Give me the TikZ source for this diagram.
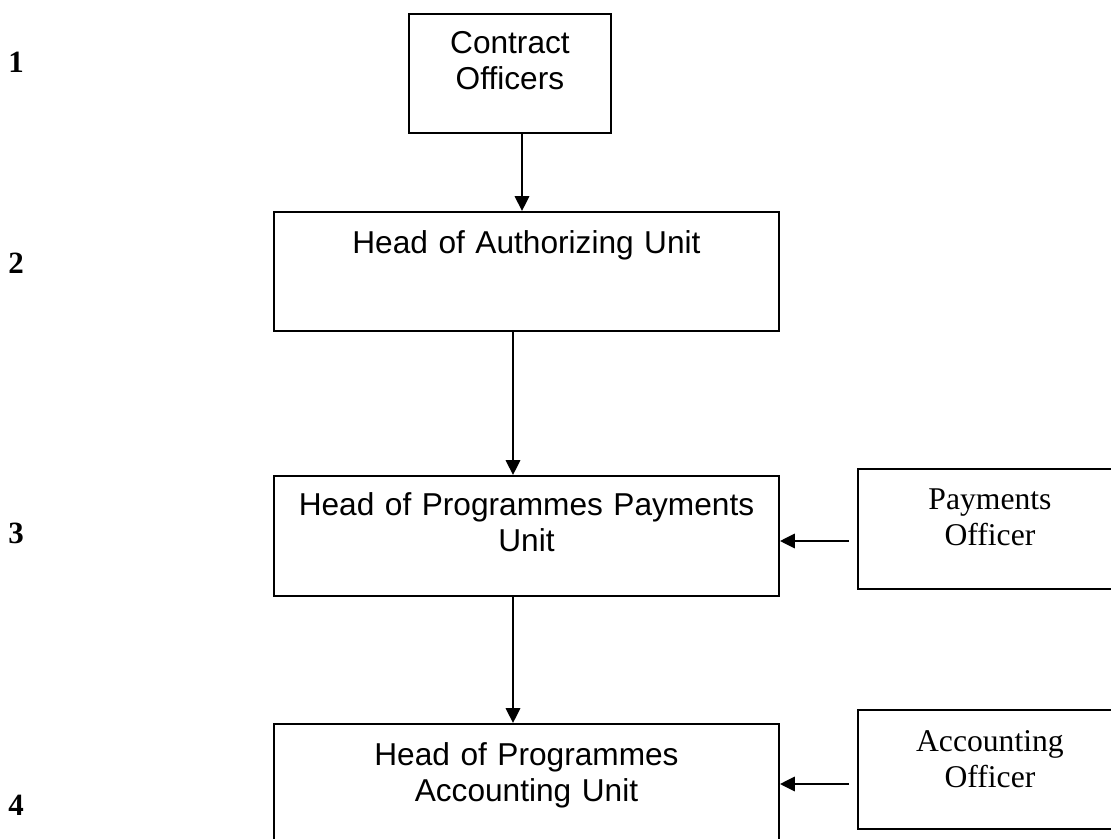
\documentclass[tikz,border=0pt]{standalone}
\usepackage{fontspec}
\setmainfont{Liberation Serif}
\newfontfamily\arialfont{Liberation Sans}
\usetikzlibrary{arrows.meta}

\begin{document}
\begin{tikzpicture}[x=0.025cm,y=-0.025cm,
  unitbox/.style={draw,line width=1.3pt,inner sep=0pt,anchor=north west,align=center,
    font=\arialfont\fontsize{22.5}{25.6}\selectfont},
  officerbox/.style={unitbox,font=\fontsize{22.5}{25.6}\selectfont},
  flow/.style={line width=1.3pt,-{Triangle[length=0.37cm,width=0.36cm]}},
  level/.style={font=\bfseries\fontsize{22}{24}\selectfont}]
\useasboundingbox (0,0) rectangle (1111,839);
\clip (0,0) rectangle (1111,839);

\node[level] (n1) at (16,62) {1};
\node[level] (n2) at (16,263) {2};
\node[level] (n3) at (16,533) {3};
\node[level] (n4) at (16,805) {4};

\node[unitbox,text width=5.05cm,text height=1.0cm,text depth=1.975cm] (contract) at (408,13) {Contract\\Officers};
\node[unitbox,text width=12.625cm,text height=1.05cm,text depth=1.925cm] (authorizing) at (273,211) {Head of Authorizing Unit};
\node[unitbox,text width=12.625cm,text height=1.0cm,text depth=2.0cm] (payments) at (273,475) {Head of Programmes Payments\\Unit};
\node[unitbox,text width=12.625cm,text height=1.05cm,text depth=2.375cm] (accounting) at (273,723) {Head of Programmes\\Accounting Unit};

\node[officerbox,text width=6.6cm,text height=1.025cm,text depth=1.975cm] (payoff) at (857,468) {Payments\\Officer};
\node[officerbox,text width=6.6cm,text height=1.05cm,text depth=1.925cm] (accoff) at (857,709) {Accounting\\Officer};

\coordinate (xa) at (522,0);
\coordinate (xb) at (513,0);
\coordinate (ya) at (0,541);
\coordinate (yb) at (0,784);

\draw[flow] (contract.south -| xa) -- (authorizing.north -| xa);
\draw[flow] (authorizing.south -| xb) -- (payments.north -| xb);
\draw[flow] (payments.south -| xb) -- (accounting.north -| xb);
\draw[flow,shorten <=0.2cm] (payoff.west |- ya) -- (payments.east |- ya);
\draw[flow,shorten <=0.2cm] (accoff.west |- yb) -- (accounting.east |- yb);

\end{tikzpicture}
\end{document}
